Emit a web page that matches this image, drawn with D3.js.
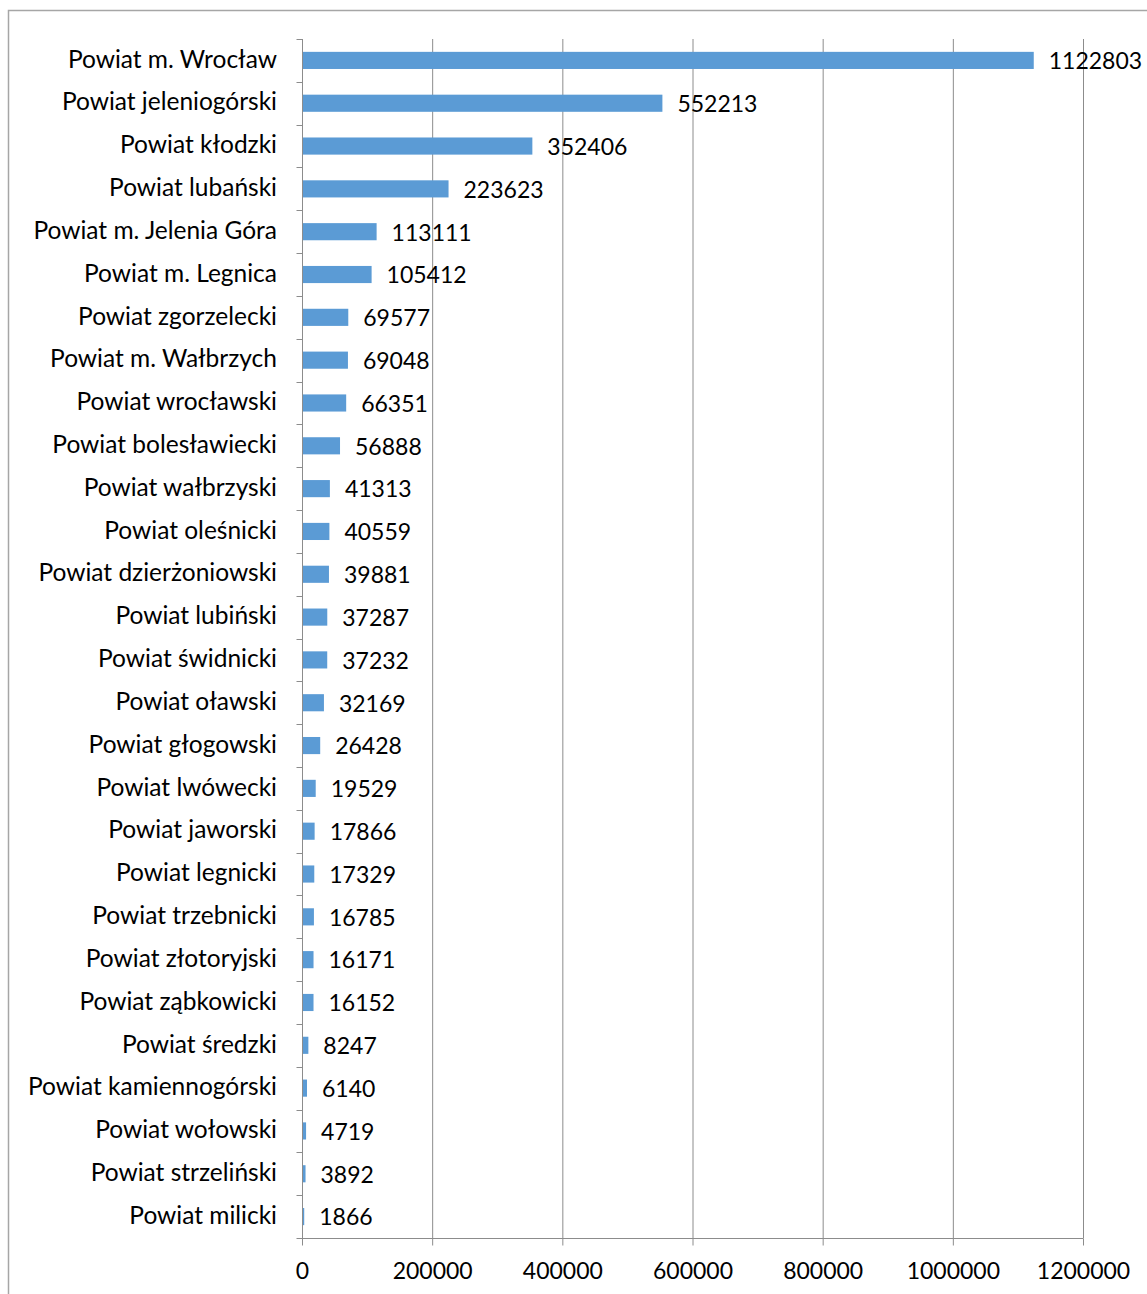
<!DOCTYPE html>
<html><head><meta charset="utf-8">
<script src="https://cdn.jsdelivr.net/npm/d3@7"></script>
<style>body{margin:0;background:#fff}svg{display:block}text{font-family:Lato,"Open Sans",sans-serif;fill:#000}</style>
</head><body><svg id="c" width="1147" height="1294"></svg>
<script>
const categories = ["Powiat m. Wrocław","Powiat jeleniogórski","Powiat kłodzki","Powiat lubański","Powiat m. Jelenia Góra","Powiat m. Legnica","Powiat zgorzelecki","Powiat m. Wałbrzych","Powiat wrocławski","Powiat bolesławiecki","Powiat wałbrzyski","Powiat oleśnicki","Powiat dzierżoniowski","Powiat lubiński","Powiat świdnicki","Powiat oławski","Powiat głogowski","Powiat lwówecki","Powiat jaworski","Powiat legnicki","Powiat trzebnicki","Powiat złotoryjski","Powiat ząbkowicki","Powiat średzki","Powiat kamiennogórski","Powiat wołowski","Powiat strzeliński","Powiat milicki"];
const values = [1122803,552213,352406,223623,113111,105412,69577,69048,66351,56888,41313,40559,39881,37287,37232,32169,26428,19529,17866,17329,16785,16171,16152,8247,6140,4719,3892,1866];
const xTicks = [0,200000,400000,600000,800000,1000000,1200000];

const svg = d3.select("#c");
svg.append("rect").attr("x",8.5).attr("y",10.5).attr("width",1200).attr("height",1400)
  .attr("fill","none").attr("stroke","#a6a6a6").attr("stroke-width",1.5);

const pL=302, pR=1083, pT=39, pB=1238;
const x = d3.scaleLinear().domain([0,1200000]).range([pL,pR]);
const y = d3.scaleBand().domain(categories).range([pT,pB]).paddingInner(0.6).paddingOuter(0.3);
const yb = d3.scaleBand().domain(categories).range([pT,pB]);

svg.append("g").selectAll("line").data(xTicks.slice(1)).join("line")
  .attr("x1",d=>x(d)+0.5).attr("x2",d=>x(d)+0.5).attr("y1",pT).attr("y2",pB)
  .attr("stroke","#8c8c8c").attr("stroke-width",1);

svg.append("g").selectAll("rect").data(values).join("rect")
  .attr("x",x(0)+1).attr("y",(d,i)=>y(categories[i]))
  .attr("width",d=>Math.max(1,x(d)-x(0))).attr("height",y.bandwidth())
  .attr("fill","#5b9bd5");

svg.append("g").selectAll("text").data(values).join("text")
  .attr("x",d=>x(d)+16).attr("y",(d,i)=>yb(categories[i])+yb.bandwidth()/2+3)
  .attr("dominant-baseline","middle").attr("font-size",23).text(d=>d);

const ya = svg.append("g").attr("transform",`translate(${pL+0.5},0)`);
ya.append("line").attr("x1",0).attr("x2",0).attr("y1",pT).attr("y2",pB).attr("stroke","#8c8c8c");
ya.selectAll("line.t").data(d3.range(categories.length+1)).join("line")
  .attr("class","t").attr("x1",-6).attr("x2",0)
  .attr("y1",i=>Math.round(pT+i*yb.step())+0.5).attr("y2",i=>Math.round(pT+i*yb.step())+0.5)
  .attr("stroke","#8c8c8c");
svg.append("g").selectAll("text").data(categories).join("text")
  .attr("x",277).attr("y",d=>yb(d)+yb.bandwidth()/2+1)
  .attr("text-anchor","end").attr("dominant-baseline","middle").attr("font-size",24.5).text(d=>d);

const xa = svg.append("g").attr("transform",`translate(0,${pB+0.5})`)
  .call(d3.axisBottom(x).tickValues(xTicks).tickSize(7).tickFormat(d=>d).tickPadding(17));
xa.select(".domain").attr("stroke","#8c8c8c").attr("d",`M${pL},0H${pR+0.5}`);
xa.selectAll(".tick line").attr("stroke","#8c8c8c");
xa.selectAll(".tick text").attr("font-size",23).attr("font-family","Lato,'Open Sans',sans-serif").attr("fill","#000");
</script></body></html>
